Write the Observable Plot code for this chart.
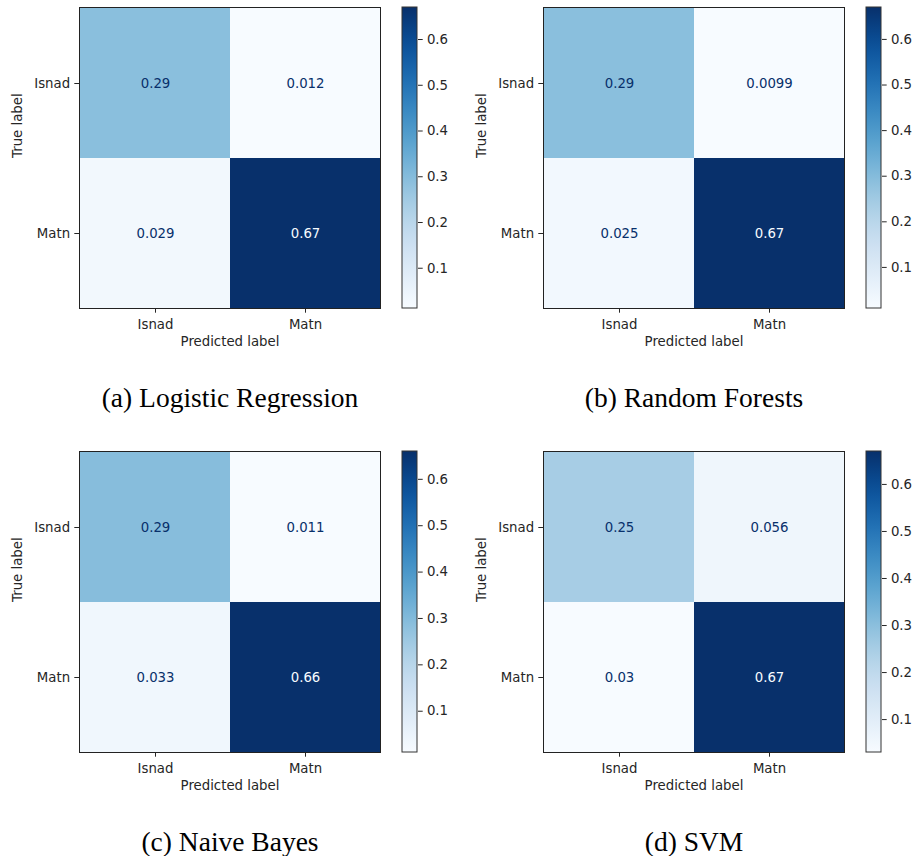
<!DOCTYPE html>
<html><head><meta charset="utf-8">
<script src="https://cdn.jsdelivr.net/npm/d3@7"></script>
<script src="https://cdn.jsdelivr.net/npm/@observablehq/plot@0.6"></script>
<style>
html,body{margin:0;padding:0;background:#fff;}
#root{position:relative;width:913px;height:856px;overflow:hidden;background:#fff;}
.panel{position:absolute;width:449px;height:420px;}
.panel svg{position:absolute;left:0;top:0;}
</style></head><body><div id="root"></div>
<script>
// ---- data ----
const categories = ["Isnad", "Matn"];
const captions = ["(a) Logistic Regression", "(b) Random Forests", "(c) Naive Bayes", "(d) SVM"];
// rows = true label, columns = predicted label
const logisticRegression = [[0.29, 0.012], [0.029, 0.67]];
const randomForests = [[0.29, 0.0099], [0.025, 0.67]];
const naiveBayes = [[0.29, 0.011], [0.033, 0.66]];
const svm = [[0.25, 0.056], [0.03, 0.67]];
const colorbarTicks = [0.1, 0.2, 0.3, 0.4, 0.5, 0.6];

const matrices = [logisticRegression, randomForests, naiveBayes, svm];

// ---- layout ----
const W = 449, H = 420;
const frameL = 79, frameR = 380, frameT = 7, frameB = 308;
const cbL = 402, cbR = 417;
const origins = [[0, 0], [464, 0], [0, 444], [464, 444]];
const fmt = d3.format(".2~g");
const font = "DejaVu Sans";
const fs = 13.3;

const root = document.getElementById("root");

matrices.forEach((m, k) => {
  const cells = [];
  m.forEach((row, i) => row.forEach((v, j) => cells.push({t: categories[i], p: categories[j], value: v})));
  const vals = cells.map(d => d.value);
  const vmin = d3.min(vals), vmax = d3.max(vals);
  const thr = (vmin + vmax) / 2;

  const panel = document.createElement("div");
  panel.className = "panel";
  panel.style.left = origins[k][0] + "px";
  panel.style.top = origins[k][1] + "px";
  root.appendChild(panel);

  const style = {background: "transparent", overflow: "visible", fontFamily: font, fontSize: fs + "px", color: "#262626"};

  const heat = Plot.plot({
    width: W, height: H,
    marginLeft: frameL, marginRight: W - frameR, marginTop: frameT, marginBottom: H - frameB,
    style,
    x: {domain: categories, padding: 0, tickSize: 4.7, tickPadding: 6.3, label: null},
    y: {domain: categories, padding: 0, tickSize: 4.7, tickPadding: 4.7, label: null},
    color: {type: "linear", scheme: "blues", domain: [vmin, vmax]},
    marks: [
      Plot.cell(cells, {x: "p", y: "t", fill: "value", inset: 0}),
      Plot.text(cells.filter(d => d.value < thr), {x: "p", y: "t", text: d => fmt(d.value), fill: "#08306b", fontSize: fs}),
      Plot.text(cells.filter(d => d.value >= thr), {x: "p", y: "t", text: d => fmt(d.value), fill: "#f7fbff", fontSize: fs}),
      Plot.frame({stroke: "#222", strokeWidth: 1}),
      Plot.text(["Predicted label"], {frameAnchor: "bottom", dy: 37.5, text: d => d, fill: "#262626", fontSize: fs}),
      Plot.text(["True label"], {frameAnchor: "left", dx: -62, rotate: -90, text: d => d, fill: "#262626", fontSize: fs}),
      Plot.text([captions[k]], {frameAnchor: "bottom", dy: 98, lineAnchor: "bottom", text: d => d,
        fontFamily: "Liberation Serif", fontSize: 27.5, fill: "#000"})
    ]
  });
  panel.appendChild(heat);

  const gid = "cbgrad" + k;
  const cb = Plot.plot({
    width: W, height: H,
    marginLeft: cbL, marginRight: W - cbR, marginTop: frameT, marginBottom: H - frameB,
    style,
    x: {domain: [0, 1], axis: null},
    y: {domain: [vmin, vmax], axis: "right", ticks: colorbarTicks, tickFormat: d3.format(".1f"),
        tickSize: 4.7, tickPadding: 4.7, label: null},
    marks: [
      Plot.rect([{lo: vmin, hi: vmax}], {x1: () => 0, x2: () => 1, y1: "lo", y2: "hi",
        fill: `url(#${gid})`, stroke: "#333", strokeWidth: 1})
    ]
  });
  const ns = "http://www.w3.org/2000/svg";
  const defs = document.createElementNS(ns, "defs");
  const grad = document.createElementNS(ns, "linearGradient");
  grad.setAttribute("id", gid);
  grad.setAttribute("x1", "0"); grad.setAttribute("y1", "1");
  grad.setAttribute("x2", "0"); grad.setAttribute("y2", "0");
  for (let s = 0; s <= 20; s++) {
    const t = s / 20;
    const stop = document.createElementNS(ns, "stop");
    stop.setAttribute("offset", t);
    stop.setAttribute("stop-color", d3.interpolateBlues(t));
    grad.appendChild(stop);
  }
  defs.appendChild(grad);
  cb.insertBefore(defs, cb.firstChild);
  panel.appendChild(cb);
});
</script></body></html>
